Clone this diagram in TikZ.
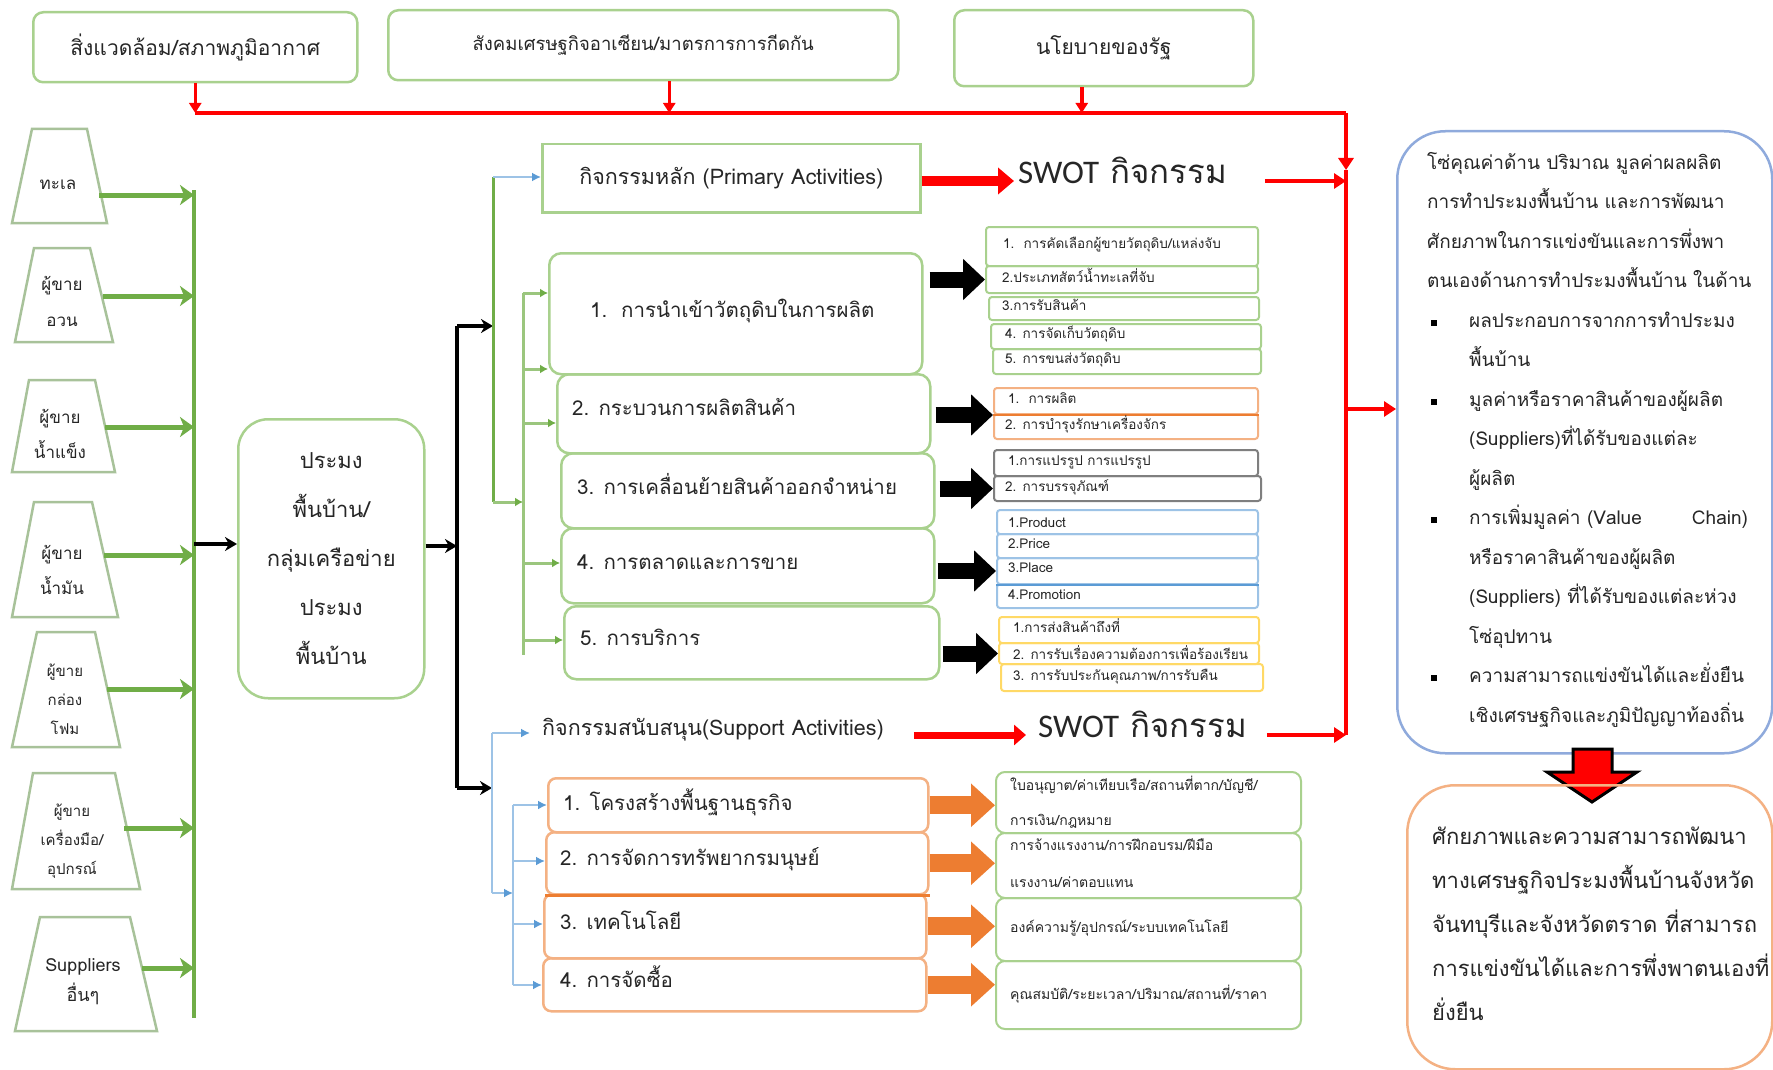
\documentclass[tikz,border=0pt]{standalone}
\usepackage{fontspec}
\setmainfont[Script=Thai]{Loma}
\newfontfamily\calib{Carlito}
\usetikzlibrary{arrows.meta,calc}
\definecolor{gb}{HTML}{A9D18E}
\definecolor{ga}{HTML}{70AD47}
\definecolor{tb}{HTML}{A8C29A}
\definecolor{ob}{HTML}{F4B183}
\definecolor{oa}{HTML}{ED7D31}
\definecolor{bb}{HTML}{9DC3E6}
\definecolor{ba}{HTML}{5B9BD5}
\definecolor{rbb}{HTML}{8FAADC}
\definecolor{yb}{HTML}{FFD966}
\definecolor{gy}{HTML}{7F7F7F}
\definecolor{txt}{HTML}{262626}
\newcommand{\fsz}[1]{\fontsize{#1}{#1}\selectfont}
\newcommand{\fszb}[2]{\fontsize{#1}{#2}\selectfont}
\newcommand{\mkbox}[6]{\node[#6, anchor=north west, inner sep=0pt, minimum width={#4-#2}, minimum height={#5-#3}] (#1) at (#2,#3)}
\begin{document}
\begin{tikzpicture}[x=1pt,y=-1pt,
 lbl/.style={inner sep=0pt, text=txt, text height=0.75em, text depth=0.25em, anchor=west},
 topbox/.style={draw=gb, line width=2.5pt, rounded corners=10pt, text=txt},
 hbox/.style={draw=gb, line width=2.5pt, text=txt, font=\fsz{21.5}},
 pbox/.style={draw=gb, line width=2.5pt, rounded corners=12pt},
 cbox/.style={draw=gb, line width=2.5pt, rounded corners=30pt, text=txt, align=center, font=\fszb{22}{49}},
 sbox/.style={draw=ob, line width=2.5pt, rounded corners=8pt},
 rgbox/.style={draw=gb, line width=2pt, rounded corners=9pt},
 smallb/.style={draw=#1, line width=2pt, rounded corners=3pt},
 trap/.style={draw=tb, line width=2.5pt, line join=miter},
 tlbl/.style={text=txt, align=center, inner sep=0pt},
 plbl/.style={lbl, font=\fsz{20.5}},
 slbl/.style={lbl, font=\fsz{13.5}},
 rlbl/.style={lbl, font=\fsz{14}},
 bt/.style={lbl, font=\fsz{19}},
 ot/.style={lbl, font=\fsz{22}},
 redln/.style={draw=red, line width=4.5pt},
 redarr/.style={draw=red, line width=4.5pt, -{Triangle[length=12pt,width=15pt]}},
 redtop/.style={draw=red, line width=3.5pt, -{Triangle[length=10pt,width=12pt]}},
 redfat/.style={draw=red, line width=10pt, -{Triangle[length=16pt,width=26pt]}},
 redfat2/.style={draw=red, line width=7pt, -{Triangle[length=12pt,width=20pt]}},
 garr/.style={draw=ga, line width=5pt, -{Stealth[length=14pt,width=20pt,inset=4pt]}},
 gln/.style={draw=ga, line width=3pt},
 gthin/.style={draw=ga!70, line width=3pt, -{Latex[length=8pt,width=9pt,color=ga]}},
 blk/.style={draw=black, line width=4pt, -{Stealth[length=12pt,width=14pt]}},
 blkln/.style={draw=black, line width=4pt},
 bigblk/.style={draw=black, line width=16pt, -{Triangle[length=22pt,width=40pt]}},
 bigor/.style={draw=oa, line width=18pt, -{Triangle[length=24pt,width=42pt]}},
 bln/.style={draw=bb, line width=2.5pt},
 barr/.style={draw=bb, line width=2.5pt, -{Latex[length=9pt,width=9pt,color=ba]}},
]
\useasboundingbox (0,0) rectangle (1773,1070);
\fill[white] (0,0) rectangle (1773,1070);

% ---------- top boxes ----------
\mkbox{env}{32}{11}{356}{81}{topbox}{\fsz{21}สิ่งแวดล้อม/สภาพภูมิอากาศ};
\mkbox{asean}{387}{9}{897}{79}{topbox}{\fsz{18.5}สังคมเศรษฐกิจอาเซียน/มาตรการการกีดกัน};
\mkbox{policy}{953}{9}{1252}{85}{topbox}{\fsz{21}นโยบายของรัฐ};

\coordinate (rlL) at (195,113);
\coordinate (rlR) at (1346,113);
\coordinate (rdn) at (1346,170);
\coordinate (rbot) at (1346,735);
\coordinate (rmid) at (1346,409);
\coordinate (a1) at (env.south);
\coordinate (a2) at ([xshift=26pt]asean.south);
\coordinate (a3) at ([xshift=-22pt]policy.south);
\draw[redtop] (a1) -- (a1 |- rlL);
\draw[redtop] (a2) -- (a2 |- rlL);
\draw[redtop] (a3) -- (a3 |- rlL);
\draw[redln] (rlL) -- (rlR);
\draw[redarr] (rlR) -- (rdn);
\draw[redln] (rdn) -- (rbot);

% ---------- left trapezoids ----------
\draw[trap] (32,129) -- (87,129) -- (107,223) -- (12,223) -- cycle;
\node[tlbl, font=\fsz{17}] (t1) at (58,185) {ทะเล};
\draw[trap] (34,248) -- (90,248) -- (113,342) -- (15,342) -- cycle;
\node[tlbl, font=\fszb{17}{36}] (t2) at (62,301) {ผู้ขาย\\อวน};
\draw[trap] (29,380) -- (95,380) -- (115,472) -- (12,472) -- cycle;
\node[tlbl, font=\fszb{17}{35}] (t3) at (60,434) {ผู้ขาย\\น้ำแข็ง};
\draw[trap] (34,502) -- (92,502) -- (118,617) -- (12,617) -- cycle;
\node[tlbl, font=\fszb{17}{35}] (t4) at (62,570) {ผู้ขาย\\น้ำมัน};
\draw[trap] (37,632) -- (95,632) -- (120,747) -- (12,747) -- cycle;
\node[tlbl, font=\fszb{15}{29}] (t5) at (65,699) {ผู้ขาย\\กล่อง\\โฟม};
\draw[trap] (33,773) -- (115,773) -- (140,889) -- (12,889) -- cycle;
\node[tlbl, font=\fszb{15}{29}] (t6) at (72,841) {ผู้ขาย\\เครื่องมือ/\\อุปกรณ์};
\draw[trap] (40,917) -- (130,917) -- (157,1031) -- (15,1031) -- cycle;
\node[tlbl, font=\fszb{18}{30}] (t7) at (83,982) {Suppliers\\อื่นๆ};

\coordinate (gl) at (194,190);
\coordinate (glb) at (194,1018);
\draw[draw=ga, line width=4.5pt] (gl) -- (glb);
\coordinate (t1e) at (99,195);
\coordinate (t2e) at (103,296);
\coordinate (t3e) at (105,427);
\coordinate (t4e) at (104,555);
\coordinate (t5e) at (107,689);
\coordinate (t6e) at (124,828);
\coordinate (t7e) at (142,968);
\foreach \t in {t1e,t2e,t3e,t4e,t5e,t6e,t7e}{
  \draw[garr] (\t) -- (\t -| gl);
}

% ---------- center box ----------
\mkbox{fish}{237}{418}{423}{697}{cbox}{ประมง\\พื้นบ้าน/\\กลุ่มเครือข่าย\\ประมง\\พื้นบ้าน};
\coordinate (gj) at (194,544);
\draw[blk] (gj) -- (gj -| fish.west);
\coordinate (bk) at (457,546);
\draw[blk] (fish.east |- bk) -- (bk);
\coordinate (bkt) at (457,326);
\coordinate (bkb) at (457,788);
\draw[blkln] (bkt) -- (bkb);

% ---------- primary activities ----------
\mkbox{prim}{541}{143}{919}{211}{hbox}{กิจกรรมหลัก (Primary Activities)};
\mkbox{p1}{548}{252}{921}{373}{pbox}{};
\mkbox{p2}{556}{373}{929}{452}{pbox}{};
\mkbox{p3}{560}{452}{933}{527}{pbox}{};
\mkbox{p4}{560}{527}{933}{602}{pbox}{};
\mkbox{p5}{563}{605}{938}{678}{pbox}{};
\node[plbl] (p1t) at (590,315) {1.\ \ การนำเข้าวัตถุดิบในการผลิต};
\node[plbl] (p2t) at (572,413) {2. กระบวนการผลิตสินค้า};
\node[plbl] (p3t) at (577,492) {3. การเคลื่อนย้ายสินค้าออกจำหน่าย};
\node[plbl] (p4t) at (577,567) {4. การตลาดและการขาย};
\node[plbl] (p5t) at (580,643) {5. การบริการ};

\coordinate (og1) at (493,177);
\coordinate (og2) at (493,326);
\coordinate (og3) at (493,502);
\coordinate (ig3) at (523,502);
\draw[blk] (bkt) -- (og2);
\draw[gln] (og1) -- (og3);
\draw[gthin] (og3) -- (ig3);
\draw[barr] (og1) -- (og1 -| prim.west);
\coordinate (igt) at (523,293);
\coordinate (igb) at (523,655);
\draw[draw=ga!70, line width=3pt] (igt) -- (igb);
\draw[gthin] (igt) -- (igt -| p1.west);
\coordinate (ig2) at (523,369);
\draw[gthin] (ig2) -- (ig2 -| p1.west);
\coordinate (ig4) at (523,423);
\draw[gthin] (ig4) -- (ig4 -| p2.west);
\coordinate (ig5) at (523,563);
\draw[gthin] (ig5) -- (ig5 -| p4.west);
\coordinate (ig6) at (523,640);
\draw[gthin] (ig6) -- (ig6 -| p5.west);

% ---------- SWOT (primary) ----------
\node[lbl, font=\fsz{33}] (sw1) at (1018,181) {{\calib SWOT} กิจกรรม};
\draw[redfat] (prim.east |- sw1.west) -- ([xshift=-4pt]sw1.west);
\coordinate (s1r) at ([xshift=38pt]sw1.east);
\draw[redarr] (s1r) -- (s1r -| rlR);

% ---------- detail groups ----------
\mkbox{g1b1}{985}{226}{1257}{265}{smallb=gb}{};
\mkbox{g1b2}{985}{265}{1257}{292}{smallb=gb}{};
\mkbox{g1b3}{988}{296}{1258}{319}{smallb=gb}{};
\mkbox{g1b4}{990}{323}{1260}{348}{smallb=gb}{};
\mkbox{g1b5}{992}{348}{1260}{373}{smallb=gb}{};
\node[slbl] (g1t1) at (1003,246) {1.\ \ การคัดเลือกผู้ขายวัตถุดิบ/แหล่งจับ};
\node[slbl] (g1t2) at (1002,280) {2.ประเภทสัตว์น้ำทะเลที่จับ};
\node[slbl] (g1t3) at (1002,308) {3.การรับสินค้า};
\node[slbl] (g1t4) at (1005,336) {4. การจัดเก็บวัตถุดิบ};
\node[slbl] (g1t5) at (1005,361) {5. การขนส่งวัตถุดิบ};

\mkbox{g2b1}{993}{387}{1257}{413}{smallb=ob}{};
\mkbox{g2b2}{993}{413}{1257}{438}{smallb=ob}{};
\draw[draw=oa, line width=2.5pt] (g2b1.south west) -- (g2b1.south east);
\node[slbl] (g2t1) at (1008,401) {1.\ \ การผลิต};
\node[slbl] (g2t2) at (1005,427) {2. การบำรุงรักษาเครื่องจักร};

\mkbox{g3b1}{993}{449}{1257}{475}{smallb=gy}{};
\mkbox{g3b2}{993}{475}{1260}{500}{smallb=gy}{};
\node[slbl] (g3t1) at (1008,463) {1.การแปรรูป การแปรรูป};
\node[slbl] (g3t2) at (1005,489) {2. การบรรจุภัณฑ์};

\mkbox{g4b1}{996}{509}{1257}{533}{smallb=bb}{};
\mkbox{g4b2}{996}{533}{1257}{557}{smallb=bb}{};
\mkbox{g4b3}{996}{557}{1257}{583}{smallb=bb}{};
\mkbox{g4b4}{996}{583}{1257}{607}{smallb=bb}{};
\draw[draw=ba, line width=2.5pt] (g4b3.south west) -- (g4b3.south east);
\node[slbl] (g4t1) at (1008,525) {1.Product};
\node[slbl] (g4t2) at (1008,546) {2.Price};
\node[slbl] (g4t3) at (1008,570) {3.Place};
\node[slbl] (g4t4) at (1008,597) {4.Promotion};

\mkbox{g5b1}{998}{616}{1258}{642}{smallb=yb}{};
\mkbox{g5b2}{998}{642}{1258}{663}{smallb=yb}{};
\mkbox{g5b3}{1000}{663}{1262}{690}{smallb=yb}{};
\node[slbl] (g5t1) at (1013,630) {1.การส่งสินค้าถึงที่};
\node[slbl] (g5t2) at (1013,657) {2. การรับเรื่องความต้องการเพื่อร้องเรียน};
\node[slbl] (g5t3) at (1013,678) {3. การรับประกันคุณภาพ/การรับคืน};

\draw[bigblk] ([xshift=6pt]p1.east |- g1b2.west) -- (g1b2.west);
\draw[bigblk] ([xshift=4pt]p2.east |- g2b1.south west) -- (g2b1.south west);
\draw[bigblk] ([xshift=4pt]p3.east |- g3b2.west) -- (g3b2.west);
\draw[bigblk] ([xshift=2pt]p4.east |- g4b3.west) -- (g4b3.west);
\draw[bigblk] ([xshift=2pt]p5.east |- g5b2.west) -- (g5b2.west);

% ---------- support activities ----------
\node[lbl, font=\fsz{21.5}] (sup) at (542,733) {กิจกรรมสนับสนุน(Support Activities)};
\node[lbl, font=\fsz{33}] (sw2) at (1038,735) {{\calib SWOT} กิจกรรม};
\coordinate (s2l) at ([xshift=30pt]sup.east);
\draw[redfat2] (s2l |- sw2.west) -- ([xshift=-12pt]sw2.west);
\coordinate (s2r) at ([xshift=20pt]sw2.east);
\draw[redarr] (s2r) -- (s2r -| rlR);

\coordinate (ob1) at (492,733);
\coordinate (ob2) at (492,893);
\coordinate (ib2) at (513,893);
\draw[blk] (bkb) -- (bkb -| ob1);
\draw[bln] (ob1) -- (ob2);
\draw[barr] (ob1) -- ([xshift=-12pt]sup.west);
\draw[barr] (ob2) -- (ib2);

\mkbox{s1}{547}{777}{927}{831}{sbox}{};
\mkbox{s2}{545}{831}{927}{893}{sbox}{};
\mkbox{s3}{543}{893}{925}{957}{sbox}{};
\mkbox{s4}{542}{957}{925}{1010}{sbox}{};
\draw[draw=oa, line width=3pt] (s2.south west) -- (s2.south east);
\node[plbl] (s1t) at (563,808) {1. โครงสร้างพื้นฐานธุรกิจ};
\node[plbl] (s2t) at (560,863) {2. การจัดการทรัพยากรมนุษย์};
\node[plbl] (s3t) at (560,927) {3. เทคโนโลยี};
\node[plbl] (s4t) at (560,985) {4. การจัดซื้อ};

\coordinate (ibt) at (513,805);
\coordinate (ibb) at (513,985);
\draw[bln] (ibt) -- (ibb);
\draw[barr] (ibt) -- (ibt -| s1.west);
\coordinate (ib3) at (513,861);
\draw[barr] (ib3) -- (ib3 -| s2.west);
\coordinate (ib4) at (513,924);
\draw[barr] (ib4) -- (ib4 -| s3.west);
\draw[barr] (ibb) -- (ibb -| s4.west);

\mkbox{r1}{995}{771}{1300}{832}{rgbox}{};
\mkbox{r2}{995}{832}{1300}{897}{rgbox}{};
\mkbox{r3}{995}{897}{1300}{960}{rgbox}{};
\mkbox{r4}{995}{960}{1300}{1028}{rgbox}{};
\node[rlbl] (r1a) at (1010,788) {ใบอนุญาต/ค่าเทียบเรือ/สถานที่ตาก/บัญชี/};
\node[rlbl] (r1b) at (1010,823) {การเงิน/กฎหมาย};
\node[rlbl] (r2a) at (1010,848) {การจ้างแรงงาน/การฝึกอบรม/ฝีมือ};
\node[rlbl] (r2b) at (1010,885) {แรงงาน/ค่าตอบแทน};
\node[rlbl] (r3a) at (1010,930) {องค์ความรู้/อุปกรณ์/ระบบเทคโนโลยี};
\node[rlbl] (r4a) at (1010,997) {คุณสมบัติ/ระยะเวลา/ปริมาณ/สถานที่/ราคา};

\draw[bigor] (s1.east) -- (s1.east -| r1.west);
\draw[bigor] (s2.east) -- (s2.east -| r2.west);
\draw[bigor] (s3.east) -- (s3.east -| r3.west);
\draw[bigor] (s4.east) -- (s4.east -| r4.west);

% ---------- right result boxes ----------
\mkbox{rb}{1396}{130}{1771}{752}{draw=rbb, line width=2.5pt, rounded corners=48pt}{};
\draw[redarr] (rmid) -- (rmid -| rb.west);
\node[bt] (b1) at (1427,167) {โซ่คุณค่าด้าน ปริมาณ มูลค่าผลผลิต};
\node[bt] (b2) at (1427,206) {การทำประมงพื้นบ้าน และการพัฒนา};
\node[bt] (b3) at (1427,246) {ศักยภาพในการแข่งขันและการพึ่งพา};
\node[bt] (b4) at (1427,285) {ตนเองด้านการทำประมงพื้นบ้าน ในด้าน};
\node[bt] (b5) at (1469,325) {ผลประกอบการจากการทำประมง};
\node[bt] (b6) at (1469,364) {พื้นบ้าน};
\node[bt] (b7) at (1469,404) {มูลค่าหรือราคาสินค้าของผู้ผลิต};
\node[bt] (b8) at (1469,443) {(Suppliers)ที่ได้รับของแต่ละ};
\node[bt] (b9) at (1469,483) {ผู้ผลิต};
\node[bt] (b10) at (1469,522) {การเพิ่มมูลค่า (Value\hspace{50pt}Chain)};
\node[bt] (b11) at (1469,562) {หรือราคาสินค้าของผู้ผลิต};
\node[bt] (b12) at (1469,601) {(Suppliers) ที่ได้รับของแต่ละห่วง};
\node[bt] (b13) at (1469,641) {โซ่อุปทาน};
\node[bt] (b14) at (1469,680) {ความสามารถแข่งขันได้และยั่งยืน};
\node[bt] (b15) at (1469,720) {เชิงเศรษฐกิจและภูมิปัญญาท้องถิ่น};
\foreach \y [count=\i] in {323,402,520,678}{
  \node[fill=black, minimum size=6pt, inner sep=0pt] (bul\i) at (1434,\y) {};
}

\draw[draw=black, fill=red, line width=3pt, line join=miter]
  (1573,749) -- (1612,749) -- (1612,772) -- (1637,772) -- (1592,802) -- (1547,772) -- (1573,772) -- cycle;

\mkbox{obox}{1406}{784}{1771}{1068}{draw=ob, line width=2.5pt, rounded corners=48pt}{};
\node[ot] (o1) at (1432,842) {ศักยภาพและความสามารถพัฒนา};
\node[ot] (o2) at (1432,886) {ทางเศรษฐกิจประมงพื้นบ้านจังหวัด};
\node[ot] (o3) at (1432,930) {จันทบุรีและจังหวัดตราด ที่สามารถ};
\node[ot] (o4) at (1432,974) {การแข่งขันได้และการพึ่งพาตนเองที่};
\node[ot] (o5) at (1432,1018) {ยั่งยืน};
\end{tikzpicture}
\end{document}
